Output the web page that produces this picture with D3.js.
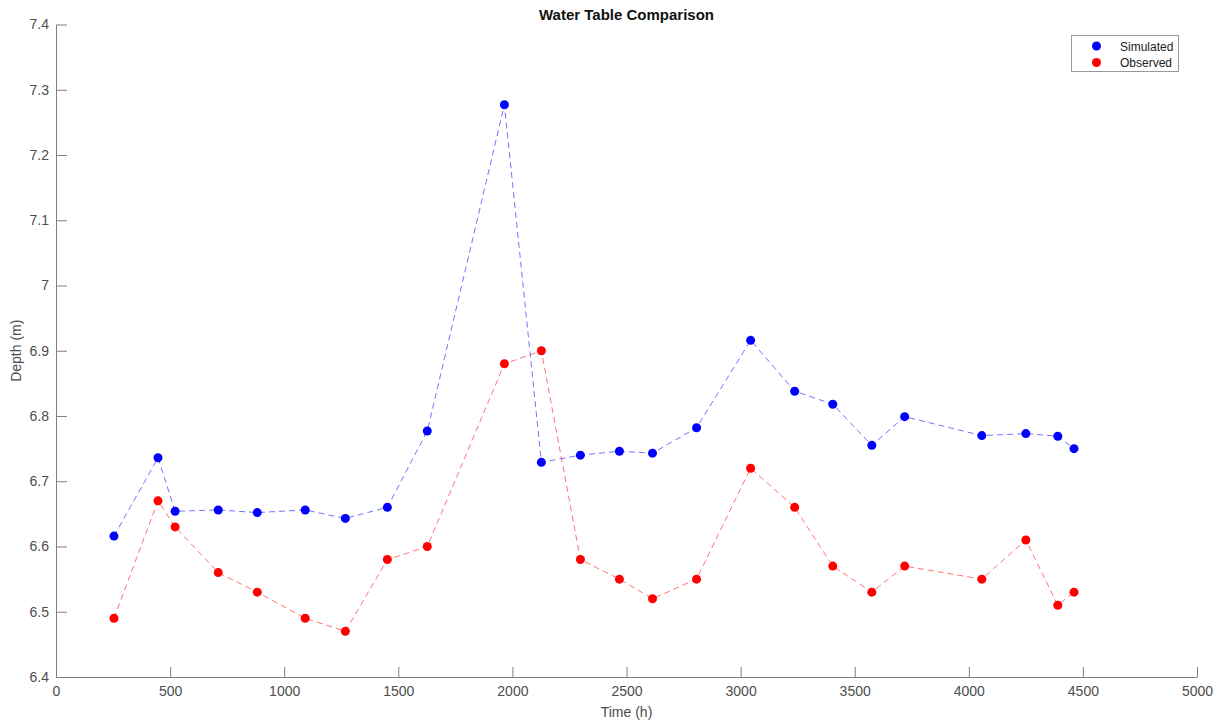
<!DOCTYPE html>
<html>
<head>
<meta charset="utf-8">
<script src="https://cdn.jsdelivr.net/npm/d3@7"></script>
<style>
  body { margin: 0; background: #fff; }
  text { font-family: "Liberation Sans", Arial, sans-serif; }
</style>
</head>
<body>
<div id="chart"></div>
<script>
// time of each sample (h)
const times = [254, 447, 522, 711, 882, 1092, 1268, 1452, 1627, 1965, 2127, 2298,
               2469, 2614, 2807, 3044, 3237, 3404, 3575, 3719, 4057, 4250, 4390, 4461];
// simulated depth (m)
const simulated = [6.616, 6.736, 6.654, 6.656, 6.652, 6.656, 6.643, 6.660, 6.777, 7.277, 6.729, 6.740,
                   6.746, 6.743, 6.782, 6.916, 6.838, 6.818, 6.755, 6.799, 6.770, 6.773, 6.769, 6.750];
// observed depth (m)
const observed = [6.49, 6.67, 6.63, 6.56, 6.53, 6.49, 6.47, 6.58, 6.60, 6.88, 6.90, 6.58,
                  6.55, 6.52, 6.55, 6.72, 6.66, 6.57, 6.53, 6.57, 6.55, 6.61, 6.51, 6.53];
const xTicks = [0, 500, 1000, 1500, 2000, 2500, 3000, 3500, 4000, 4500, 5000];
const yTicks = [6.4, 6.5, 6.6, 6.7, 6.8, 6.9, 7, 7.1, 7.2, 7.3, 7.4];

const W = 1221, H = 724;
const mLeft = 56, mRight = 1197, mTop = 24.5, mBottom = 677;

const svg = d3.select("#chart").append("svg")
    .attr("width", W)
    .attr("height", H);

const x = d3.scaleLinear().domain([0, 5000]).range([mLeft, mRight]);
const y = d3.scaleLinear().domain([6.4, 7.4]).range([mBottom, mTop]);

// axes (ticks point inward, MATLAB style)
const xAxis = svg.append("g")
    .attr("transform", `translate(0,${mBottom})`)
    .call(d3.axisBottom(x).tickValues(xTicks).tickFormat(d3.format("d")).tickSizeInner(-10).tickSizeOuter(0).tickPadding(9));
const yAxis = svg.append("g")
    .attr("transform", `translate(${mLeft},0)`)
    .call(d3.axisLeft(y).tickValues(yTicks).tickFormat(d => d === 7 ? "7" : d3.format(".1f")(d)).tickSizeInner(-11).tickSizeOuter(0).tickPadding(7));

[xAxis, yAxis].forEach(g => {
    g.select(".domain").attr("stroke", "#808080").attr("stroke-width", 1);
    g.selectAll(".tick line").attr("stroke", "#808080");
    g.selectAll(".tick text").attr("fill", "#4d4d4d").style("font-size", "14px");
});

// series
const series = [
    {name: "Simulated", values: simulated, color: "#0000ff", line: "rgba(0,0,255,0.55)"},
    {name: "Observed", values: observed, color: "#ff0000", line: "rgba(255,0,0,0.55)"}
];

const line = d3.line().x(d => x(d[0])).y(d => y(d[1]));

series.forEach(s => {
    const pts = times.map((t, i) => [t, s.values[i]]);
    svg.append("path")
        .datum(pts)
        .attr("d", line)
        .attr("fill", "none")
        .attr("stroke", s.line)
        .attr("stroke-width", 1)
        .attr("stroke-dasharray", "6,4");
    svg.append("g").selectAll("circle")
        .data(pts)
        .join("circle")
        .attr("cx", d => x(d[0]))
        .attr("cy", d => y(d[1]))
        .attr("r", 4.5)
        .attr("fill", s.color);
});

// title and labels
svg.append("text")
    .attr("x", (mLeft + mRight) / 2)
    .attr("y", 20)
    .attr("text-anchor", "middle")
    .style("font-size", "15px")
    .style("font-weight", "bold")
    .attr("fill", "#111")
    .text("Water Table Comparison");

svg.append("text")
    .attr("x", (mLeft + mRight) / 2)
    .attr("y", 717)
    .attr("text-anchor", "middle")
    .style("font-size", "14px")
    .attr("fill", "#4d4d4d")
    .text("Time (h)");

svg.append("text")
    .attr("transform", `translate(21,${(mTop + mBottom) / 2}) rotate(-90)`)
    .attr("text-anchor", "middle")
    .style("font-size", "14px")
    .attr("fill", "#4d4d4d")
    .text("Depth (m)");

// legend
const legend = svg.append("g");
legend.append("rect")
    .attr("x", 1071.5).attr("y", 35.5)
    .attr("width", 107).attr("height", 36)
    .attr("fill", "#fff")
    .attr("stroke", "#999");
series.forEach((s, i) => {
    legend.append("circle")
        .attr("cx", 1096.5).attr("cy", 46 + i * 16.5)
        .attr("r", 4.5).attr("fill", s.color);
    legend.append("text")
        .attr("x", 1120).attr("y", 50.5 + i * 16.5)
        .style("font-size", "12px")
        .attr("fill", "#222")
        .text(s.name);
});
</script>
</body>
</html>
